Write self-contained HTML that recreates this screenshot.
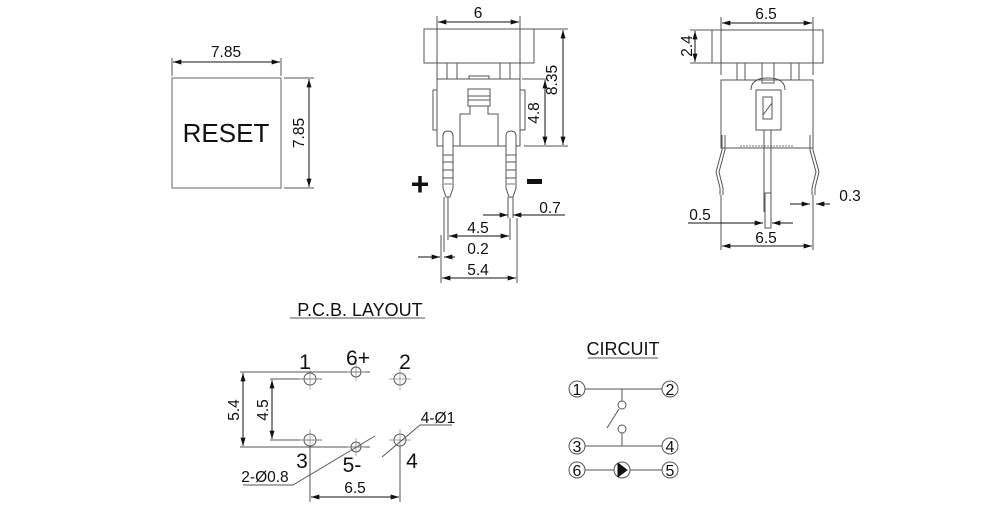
<!DOCTYPE html>
<html><head><meta charset="utf-8"><style>
html,body{margin:0;padding:0;background:#fff;}
svg{display:block;}
text{font-family:"Liberation Sans",sans-serif;fill:#111;}
</style></head><body>
<svg width="1000" height="512" viewBox="0 0 1000 512" xmlns="http://www.w3.org/2000/svg">
<defs>
<marker id="a" viewBox="0 0 10 6" refX="10" refY="3" markerWidth="9" markerHeight="5" orient="auto-start-reverse" markerUnits="userSpaceOnUse"><path d="M0,0 L10,3 L0,6 z" fill="#111"/></marker>
</defs>
<g stroke="#555" stroke-width="1" fill="none">
<rect x="172" y="78" width="109" height="110" stroke="#666"/>
<line x1="172" y1="58" x2="172" y2="76"/><line x1="281" y1="58" x2="281" y2="76"/>
<line x1="173" y1="62" x2="280" y2="62" stroke="#111" marker-start="url(#a)" marker-end="url(#a)"/>
<line x1="284" y1="78" x2="314" y2="78"/><line x1="284" y1="188" x2="314" y2="188"/>
<line x1="309" y1="79" x2="309" y2="187" stroke="#111" marker-start="url(#a)" marker-end="url(#a)"/>

<rect x="424" y="29" width="110" height="34"/>
<line x1="437" y1="16" x2="437" y2="79"/><line x1="520" y1="16" x2="520" y2="79"/>
<line x1="438" y1="22" x2="519" y2="22" stroke="#111" marker-start="url(#a)" marker-end="url(#a)"/>
<rect x="447" y="63" width="10" height="16"/><rect x="500" y="63" width="10" height="16"/>
<rect x="469" y="76" width="20" height="3"/>
<rect x="437" y="79" width="83" height="67"/>
<rect x="433" y="90" width="4" height="40"/><rect x="520" y="90" width="5" height="40"/>
<rect x="468" y="89" width="22" height="17"/>
<line x1="468" y1="96" x2="490" y2="96"/><line x1="468" y1="100" x2="490" y2="100"/>
<path d="M470,106 V114 H460 V146 M488,106 V114 H498 V146"/>
<path d="M443,146 V136 Q443,131 448,131 Q453,131 453,136 V188 L450,197 H446 L443,188 Z" fill="#fff"/>
<line x1="443" y1="155" x2="453" y2="155"/><line x1="443" y1="162" x2="453" y2="162"/><line x1="443" y1="170" x2="453" y2="170"/><line x1="443" y1="178" x2="453" y2="178"/>
<line x1="444" y1="184" x2="452" y2="184" stroke="#bbb" stroke-width="2"/>
<path d="M444,197 V252 M448,197 V237"/>
<line x1="441" y1="235" x2="441" y2="255" stroke="#aaa" stroke-width="2"/>
<path d="M506,146 V136 Q506,131 511,131 Q516,131 516,136 V188 L513,197 H509 L506,188 Z" fill="#fff"/>
<line x1="506" y1="155" x2="516" y2="155"/><line x1="506" y1="162" x2="516" y2="162"/><line x1="506" y1="170" x2="516" y2="170"/><line x1="506" y1="178" x2="516" y2="178"/>
<line x1="507" y1="184" x2="515" y2="184" stroke="#bbb" stroke-width="2"/>
<path d="M508,197 V218 M513,197 V218"/>
<line x1="534" y1="29" x2="568" y2="29"/><line x1="524" y1="146" x2="568" y2="146"/><line x1="522" y1="79" x2="548" y2="79"/>
<line x1="563" y1="30" x2="563" y2="145" stroke="#111" marker-start="url(#a)" marker-end="url(#a)"/>
<line x1="545" y1="80" x2="545" y2="145" stroke="#111" marker-start="url(#a)" marker-end="url(#a)"/>
<line x1="483" y1="215" x2="508" y2="215" stroke="#111" marker-end="url(#a)"/>
<line x1="565" y1="215" x2="513" y2="215" stroke="#111" marker-end="url(#a)"/>
<line x1="448" y1="200" x2="448" y2="240"/><line x1="510" y1="218" x2="510" y2="240"/>
<line x1="449" y1="236" x2="509" y2="236" stroke="#111" marker-start="url(#a)" marker-end="url(#a)"/>
<line x1="418" y1="257" x2="440" y2="257" stroke="#111" marker-end="url(#a)"/>
<line x1="455" y1="257" x2="444" y2="257" stroke="#111" marker-end="url(#a)"/>
<line x1="441" y1="255" x2="441" y2="283"/><line x1="517" y1="218" x2="517" y2="283"/>
<line x1="442" y1="278" x2="516" y2="278" stroke="#111" marker-start="url(#a)" marker-end="url(#a)"/>

<rect x="712" y="30" width="111" height="33"/>
<line x1="721" y1="17" x2="721" y2="75"/><line x1="813" y1="17" x2="813" y2="75"/>
<line x1="722" y1="23" x2="812" y2="23" stroke="#111" marker-start="url(#a)" marker-end="url(#a)"/>
<line x1="690" y1="30" x2="712" y2="30"/><line x1="690" y1="63" x2="712" y2="63"/>
<line x1="695" y1="31" x2="695" y2="62" stroke="#111" marker-start="url(#a)" marker-end="url(#a)"/>
<rect x="737" y="63" width="8" height="17"/><rect x="791" y="63" width="8" height="17"/>
<rect x="762" y="63" width="12" height="20"/>
<rect x="721" y="80" width="92" height="68"/>
<path d="M751,90 Q751,78 768,78 Q785,78 785,90"/>
<rect x="756" y="90" width="25" height="40"/>
<rect x="763" y="97" width="9" height="22"/>
<line x1="763" y1="115" x2="772" y2="103"/>
<line x1="740" y1="146" x2="794" y2="146" stroke="#777" stroke-dasharray="2,1"/>
<path d="M764,130 V212 M771,130 V212"/>
<rect x="765" y="193" width="6" height="35"/>
<path d="M722,135 V150 L716,172 L720,188 V195 M725,135 V150 L719,172 L723,188 V195"/>
<path d="M813,135 V150 L819,172 L815,188 V195 M810,135 V150 L816,172 L812,188 V195"/>
<line x1="721" y1="195" x2="721" y2="250"/><line x1="813" y1="195" x2="813" y2="250"/>
<line x1="790" y1="204" x2="810" y2="204" stroke="#111" marker-end="url(#a)"/>
<line x1="830" y1="204" x2="816" y2="204" stroke="#111" marker-end="url(#a)"/>
<line x1="688" y1="223" x2="763" y2="223" stroke="#111" marker-end="url(#a)"/>
<line x1="793" y1="223" x2="772" y2="223" stroke="#111" marker-end="url(#a)"/>
<line x1="722" y1="246" x2="812" y2="246" stroke="#111" marker-start="url(#a)" marker-end="url(#a)"/>

<line x1="290" y1="318" x2="425" y2="318"/>
<line x1="240" y1="372" x2="370" y2="372"/><line x1="240" y1="447" x2="370" y2="447"/>
<line x1="270" y1="379" x2="322" y2="379"/><line x1="270" y1="440" x2="322" y2="440"/>
<line x1="243" y1="373" x2="243" y2="446" stroke="#111" marker-start="url(#a)" marker-end="url(#a)"/>
<line x1="272" y1="380" x2="272" y2="439" stroke="#111" marker-start="url(#a)" marker-end="url(#a)"/>
<circle cx="310" cy="379" r="6"/><circle cx="310" cy="440" r="6"/>
<circle cx="356" cy="372" r="5"/><circle cx="356" cy="447" r="5"/>
<circle cx="400" cy="379" r="6"/><circle cx="400" cy="440" r="6"/>
<g stroke="#888" stroke-width="0.7">
<path d="M299,379 H321 M310,368 V390 M299,440 H321 M310,429 V451 M347,372 H365 M356,363 V381 M347,447 H365 M356,438 V456 M389,379 H411 M400,368 V390 M389,440 H411 M400,429 V451"/>
</g>
<line x1="310" y1="446" x2="310" y2="502"/><line x1="400" y1="446" x2="400" y2="502"/>
<line x1="311" y1="497" x2="399" y2="497" stroke="#111" marker-start="url(#a)" marker-end="url(#a)"/>
<path d="M375,436 L293,485 H243"/>
<path d="M382,457 L420,425 H452"/>

<line x1="588" y1="358" x2="658" y2="358"/>
<path d="M585,389 H662 M622,389 V401 M585,446 H662 M622,433 V446 M585,470 H614 M630,470 H662 M607,428 L619,409"/>
<circle cx="622" cy="405" r="4"/><circle cx="622" cy="429" r="4"/>
<circle cx="577" cy="389" r="8"/><circle cx="670" cy="389" r="8"/>
<circle cx="577" cy="446" r="8"/><circle cx="670" cy="446" r="8"/>
<circle cx="577" cy="470" r="8"/><circle cx="670" cy="470" r="8"/>
<circle cx="622" cy="470" r="8"/>
<path d="M619,464 L627,470 L619,476 Z M618,463 V477" fill="#111" stroke="#111"/>
</g>

<text x="226" y="142" font-size="26" text-anchor="middle">RESET</text>
<g font-size="15.5" text-anchor="middle">
<text x="226" y="57">7.85</text>
<text transform="translate(304,133) rotate(-90)">7.85</text>
<text x="478" y="18">6</text>
<text transform="translate(561,80) rotate(-90)" x="0" y="-4">8.35</text>
<text transform="translate(543,113) rotate(-90)" x="0" y="-4">4.8</text>
<text x="550" y="213">0.7</text>
<text x="478" y="233">4.5</text>
<text x="478" y="254">0.2</text>
<text x="478" y="275">5.4</text>
<text x="766" y="19">6.5</text>
<text transform="translate(692,46) rotate(-90)">2.4</text>
<text x="850" y="201">0.3</text>
<text x="700" y="220">0.5</text>
<text x="766" y="243">6.5</text>
<text transform="translate(239,410) rotate(-90)">5.4</text>
<text transform="translate(268,410) rotate(-90)">4.5</text>
<text x="355" y="493">6.5</text>
<text x="265" y="482">2-Ø0.8</text>
<text x="438" y="423">4-Ø1</text>
</g>
<text x="420" y="195" font-size="32" font-weight="bold" text-anchor="middle">+</text>
<rect x="527" y="179" width="15" height="5" fill="#111"/>
<text x="360" y="316" font-size="18" text-anchor="middle">P.C.B. LAYOUT</text>
<text x="623" y="355" font-size="18" text-anchor="middle">CIRCUIT</text>
<g font-size="21" text-anchor="middle">
<text x="305" y="369">1</text><text x="358" y="365">6+</text><text x="405" y="369">2</text>
<text x="302" y="468">3</text><text x="352" y="472">5-</text><text x="412" y="468">4</text>
</g>
<g font-size="16" text-anchor="middle">
<text x="577" y="395">1</text><text x="670" y="395">2</text>
<text x="577" y="452">3</text><text x="670" y="452">4</text>
<text x="577" y="476">6</text><text x="670" y="476">5</text>
</g>
</svg>
</body></html>
